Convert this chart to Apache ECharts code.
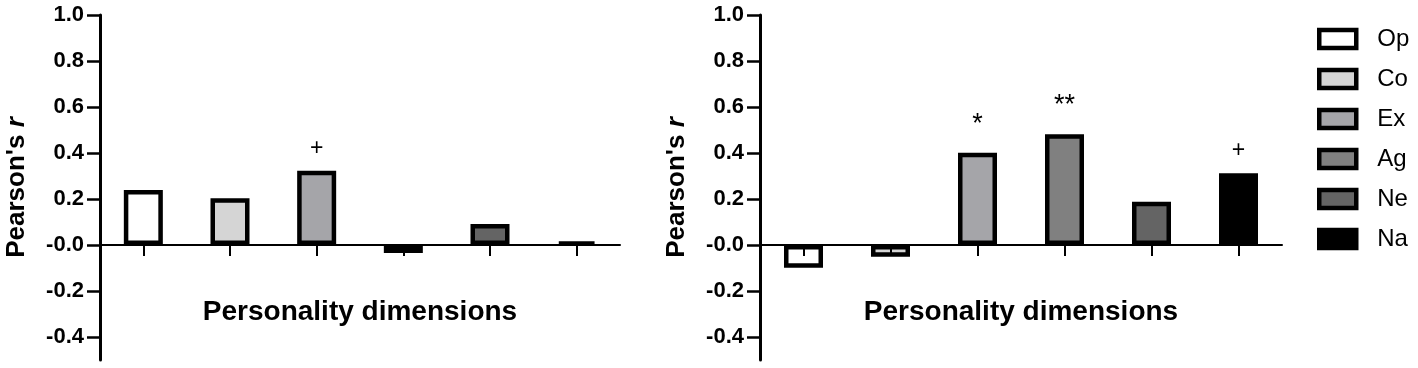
<!DOCTYPE html>
<html>
<head>
<meta charset="utf-8">
<script src="https://cdn.jsdelivr.net/npm/echarts@6/dist/echarts.min.js"></script>
<style>
  html, body { margin: 0; padding: 0; background: #fff; }
  #chart { width: 1418px; height: 368px; }
</style>
</head>
<body>
<div id="chart"></div>
<script>
// ---- data ----
const categories = ['Op', 'Co', 'Ex', 'Ag', 'Ne', 'Na'];
const leftValues = [0.239, 0.203, 0.323, -0.035, 0.091, 0.014];
const rightValues = [-0.099, -0.051, 0.401, 0.481, 0.188, 0.312];
const leftMarks = ['', '', '+', '', '', ''];
const rightMarks = ['', '', '*', '**', '', '+'];
const yTickValues = [-0.4, -0.2, 0, 0.2, 0.4, 0.6, 0.8, 1.0];
const yTickLabels = ['-0.4', '-0.2', '-0.0', '0.2', '0.4', '0.6', '0.8', '1.0'];
const xAxisTitle = 'Personality dimensions';
const yAxisTitle = "Pearson's ";
const yAxisTitleItalic = 'r';

const fills = ['#ffffff', '#d5d5d5', '#a5a5a9', '#808080', '#646464', '#000000'];

const FONT = '"Liberation Sans", Arial, sans-serif';

function fmtTick(v) {
  const i = yTickValues.findIndex(t => Math.abs(t - v) < 1e-9);
  return i >= 0 ? yTickLabels[i] : '';
}

function makeY(gridIndex) {
  return {
    type: 'value', gridIndex: gridIndex, min: -0.5, max: 1.0, interval: 0.1,
    splitLine: { show: false },
    axisLine: { show: true, lineStyle: { color: '#000', width: 3 } },
    axisTick: { show: true, length: 13, customValues: yTickValues, lineStyle: { color: '#000', width: 2.5 } },
    axisLabel: { show: true, customValues: yTickValues, formatter: fmtTick, margin: 16,
      color: '#000', fontSize: 22, fontWeight: 'bold', fontFamily: FONT },
    name: '{a|' + yAxisTitle + '}{b|' + yAxisTitleItalic + '}',
    nameLocation: 'middle', nameGap: 70, nameRotate: 90,
    nameTextStyle: {
      rich: {
        a: { fontSize: 26, fontWeight: 'bold', fontFamily: FONT, color: '#000' },
        b: { fontSize: 26, fontWeight: 'bold', fontStyle: 'italic', fontFamily: FONT, color: '#000' }
      }
    }
  };
}

function makeX(gridIndex) {
  return {
    type: 'category', gridIndex: gridIndex, data: categories, z: 5,
    axisLine: { show: true, onZero: true, lineStyle: { color: '#000', width: 2 } },
    axisTick: { show: true, alignWithLabel: true, length: 11, lineStyle: { color: '#000', width: 2 } },
    axisLabel: { show: false },
    splitLine: { show: false },
    name: xAxisTitle, nameLocation: 'middle', nameGap: -62,
    nameTextStyle: { fontSize: 28, fontWeight: 'bold', fontFamily: FONT, color: '#000' }
  };
}

function makeSeries(values, marks, axisIndex, stackName) {
  return categories.map((name, i) => ({
    name: name,
    type: 'bar',
    xAxisIndex: axisIndex, yAxisIndex: axisIndex,
    stack: stackName,
    barWidth: 39,
    itemStyle: { color: fills[i], borderColor: '#000', borderWidth: 4.5 },
    data: categories.map((c, j) => {
      if (j !== i) return '-';
      const m = marks[j];
      const isStar = m.indexOf('*') >= 0;
      return {
        value: values[j],
        label: {
          show: m !== '',
          position: 'top',
          distance: isStar ? 15 : 11,
          formatter: m,
          fontSize: isStar ? 27 : 23,
          fontFamily: FONT,
          color: '#000'
        }
      };
    })
  }));
}

const chart = echarts.init(document.getElementById('chart'), null, { renderer: 'canvas' });
chart.setOption({
  animation: false,
  backgroundColor: '#fff',
  grid: [
    { left: 100, top: 15, width: 520, height: 345, outerBoundsMode: 'none', containLabel: false },
    { left: 760, top: 15, width: 522, height: 345, outerBoundsMode: 'none', containLabel: false }
  ],
  xAxis: [makeX(0), makeX(1)],
  yAxis: [makeY(0), makeY(1)],
  legend: {
    orient: 'vertical', left: 1312, top: 22,
    icon: 'rect', itemWidth: 37, itemHeight: 18, itemGap: 16,
    itemStyle: { borderColor: '#000', borderWidth: 4.5 },
    textStyle: { fontSize: 24, fontFamily: FONT, color: '#000', lineHeight: 24, padding: [0, 0, 0, 16] },
    data: categories
  },
  series: makeSeries(leftValues, leftMarks, 0, 'L').concat(makeSeries(rightValues, rightMarks, 1, 'R'))
});
</script>
</body>
</html>
